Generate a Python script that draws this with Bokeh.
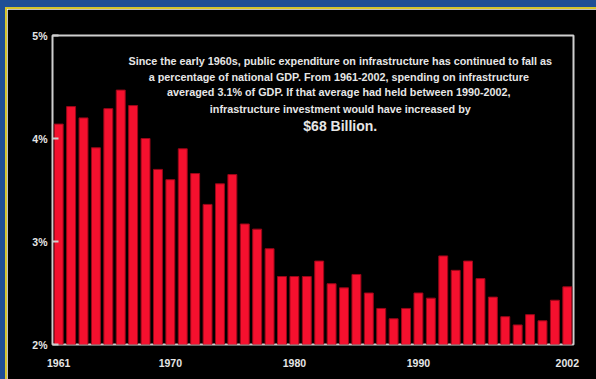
from bokeh.plotting import figure
from bokeh.embed import file_html
from bokeh.resources import INLINE
from bokeh.models import ColumnDataSource, FixedTicker, Label, Div
from bokeh.layouts import column, row

years = list(range(1961, 2003))
pct_gdp = [4.14, 4.31, 4.20, 3.91, 4.29, 4.47, 4.32, 4.00, 3.70, 3.60,
           3.90, 3.66, 3.36, 3.56, 3.65, 3.17, 3.12, 2.93, 2.66, 2.66,
           2.66, 2.81, 2.59, 2.55, 2.68, 2.50, 2.35, 2.25, 2.35, 2.50,
           2.45, 2.86, 2.72, 2.81, 2.64, 2.46, 2.27, 2.19, 2.29, 2.23,
           2.43, 2.56]
y_ticks = [2, 3, 4, 5]
y_tick_labels = ["2%", "3%", "4%", "5%"]
x_ticks = [1961, 1970, 1980, 1990, 2002]
note_lines = [
    "Since the early 1960s, public expenditure on infrastructure has continued to fall as",
    "a percentage of national GDP.  From 1961-2002, spending on infrastructure",
    "averaged 3.1% of GDP.  If that average had held between 1990-2002,",
    "infrastructure investment would have increased by",
]
note_big = "$68 Billion."

BLUE = "#1f4f96"
YELLOW = "#d6c52c"
TEXT = "#e6e6e6"
FONT = "Liberation Sans"

src = ColumnDataSource(dict(year=years, val=pct_gdp))

p = figure(width=589, height=370, output_backend="svg", toolbar_location=None,
           x_range=(1960.5, 2002.5), y_range=(2, 5),
           min_border_left=45, min_border_right=23, min_border_top=26, min_border_bottom=35,
           background_fill_color="black", border_fill_color="black")
p.vbar(x="year", top="val", bottom=2, width=0.72, source=src,
       fill_color="#f5102e", line_color="#9a0718", line_width=1)

p.outline_line_color = "#cfcfcf"
p.outline_line_width = 2
p.xgrid.visible = False
p.ygrid.visible = False

p.yaxis.ticker = FixedTicker(ticks=y_ticks)
p.yaxis.major_label_overrides = {t: l for t, l in zip(y_ticks, y_tick_labels)}
p.yaxis.axis_line_color = None
p.yaxis.major_tick_in = 6
p.yaxis.major_tick_out = 0
p.yaxis.major_tick_line_color = "#cfcfcf"
p.yaxis.major_tick_line_width = 2
p.yaxis.minor_tick_line_color = None
p.yaxis.major_label_standoff = 5

p.xaxis.ticker = FixedTicker(ticks=x_ticks)
p.xaxis.axis_line_color = None
p.xaxis.major_tick_line_color = None
p.xaxis.minor_tick_line_color = None
p.xaxis.major_label_standoff = 8

for ax in (p.xaxis[0], p.yaxis[0]):
    ax.major_label_text_color = TEXT
    ax.major_label_text_font = FONT
    ax.major_label_text_font_style = "bold"
    ax.major_label_text_font_size = "10.5px"

note_y = [4.757, 4.60, 4.447, 4.291]
for line, yy in zip(note_lines, note_y):
    p.add_layout(Label(x=1983.7, y=yy, text=line, text_align="center", text_baseline="middle",
                       text_color=TEXT, text_font=FONT, text_font_style="bold",
                       text_font_size="10.8px"))
p.add_layout(Label(x=1983.7, y=4.117, text=note_big, text_align="center", text_baseline="middle",
                   text_color=TEXT, text_font=FONT, text_font_style="bold",
                   text_font_size="14px"))

top_blue = Div(width=596, height=7, margin=0, styles={"background-color": BLUE})
left_blue = Div(width=5, height=372, margin=0, styles={"background-color": BLUE})
top_yellow = Div(width=591, height=2, margin=0, styles={"background-color": YELLOW})
left_yellow = Div(width=2, height=370, margin=0, styles={"background-color": YELLOW})

layout = column(top_blue,
                row(left_blue,
                    column(top_yellow, row(left_yellow, p, spacing=0), spacing=0),
                    spacing=0),
                spacing=0)

open("out.html", "w").write(file_html(layout, INLINE))
